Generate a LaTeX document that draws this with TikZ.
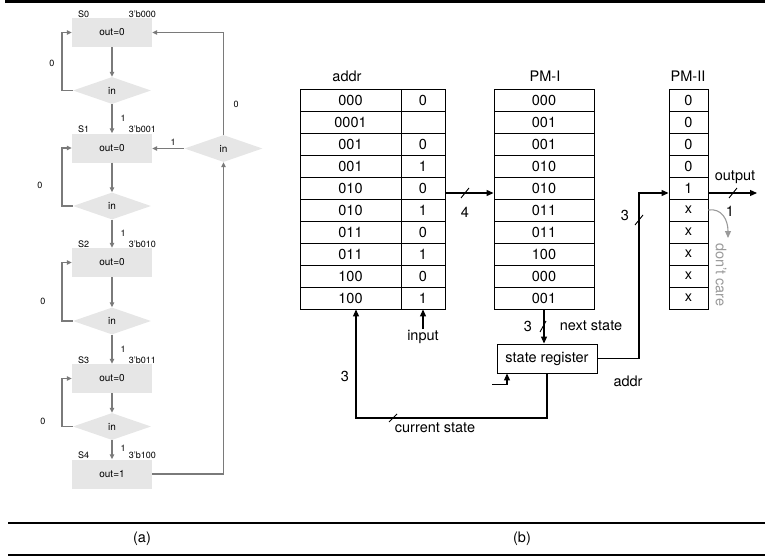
\documentclass[tikz,border=0pt]{standalone}
\usepackage{fontspec}
\setmainfont{TeX Gyre Heros}
\usetikzlibrary{shapes.geometric,arrows.meta}

\definecolor{cajagris}{HTML}{E6E6E6}
\definecolor{flechagris}{HTML}{7A7A7A}
\definecolor{textogris}{HTML}{9A9A9A}

\tikzset{
  estado/.style={fill=cajagris, minimum width=80pt, minimum height=29pt, inner sep=0pt, font=\fontsize{10}{12}\selectfont},
  decision/.style={diamond, fill=cajagris, minimum width=78pt, minimum height=27pt, aspect=2.9, inner sep=0pt, font=\fontsize{10}{12}\selectfont},
  etiq/.style={font=\fontsize{9}{11}\selectfont, inner sep=1pt},
  fgris/.style={draw=flechagris, line width=1.3pt, -{Triangle[length=5pt,width=4.5pt]}, fill=none},
  lgris/.style={draw=flechagris, line width=1.3pt},
  celda/.style={draw, line width=0.9pt, minimum height=22pt, inner sep=0pt, font=\fontsize{14.5}{16}\selectfont},
  texto/.style={font=\fontsize{14.5}{16}\selectfont, inner sep=1pt},
  fnegra/.style={draw, line width=1.1pt, -{Triangle[length=7pt,width=6pt]}},
  lnegra/.style={draw, line width=1.1pt},
  raya/.style={draw, line width=0.9pt}
}

\begin{document}
\begin{tikzpicture}[x=1pt,y=-1pt]
    \useasboundingbox (0,0) rectangle (783,559);

    % Lineas de la tabla
    \draw[line width=2.5pt] (5,1.5) -- (765,1.5);
    \draw[line width=1.6pt] (8,523) -- (765,523);
    \draw[line width=1.6pt] (8,555) -- (765,555);
    \node[texto] (lbla) at (142,539) {(a)};
    \node[texto] (lblb) at (522,539) {(b)};

    % (a) Diagrama de estados
    \node[estado] (s0) at (112,32.5) {out=0};
    \node[estado] (s1) at (112,148) {out=0};
    \node[estado] (s2) at (112,262.5) {out=0};
    \node[estado] (s3) at (112,378.5) {out=0};
    \node[estado] (s4) at (112,474) {out=1};

    \node[decision] (d0) at (112,90.5) {in};
    \node[decision] (d1) at (112,206) {in};
    \node[decision] (d2) at (112,321) {in};
    \node[decision] (d3) at (112,426.5) {in};
    \node[decision] (dr) at (223.5,148.5) {in};

    % Nombres y codigos de los estados
    \foreach \s/\c in {s0/000, s1/001, s2/010, s3/011, s4/100} {
        \node[etiq, anchor=south west] (\s n) at ([shift={(5pt,-1pt)}]\s.north west) {\MakeUppercase{\s}};
        \node[etiq, anchor=south east] (\s c) at ([shift={(5pt,-1pt)}]\s.north east) {3'b\c};
    }

    % Flechas verticales
    \draw[fgris] (s0.south) -- (d0.north);
    \draw[fgris] (d0.south) -- node[etiq, right=7pt] {1} (s1.north);
    \draw[fgris] (s1.south) -- (d1.north);
    \draw[fgris] (d1.south) -- node[etiq, right=7pt] {1} (s2.north);
    \draw[fgris] (s2.south) -- (d2.north);
    \draw[fgris] (d2.south) -- node[etiq, right=7pt] {1} (s3.north);
    \draw[fgris] (s3.south) -- (d3.north);
    \draw[fgris] (d3.south) -- node[etiq, right=7pt, pos=0.4] {1} (s4.north);

    % Lazos con 0
    \draw[fgris] (d0.west) -- (62,90.5) |- (s0.west);
    \draw[fgris] (d1.west) -- (62,206) |- (s1.west);
    \draw[fgris] (d2.west) -- (62,321) |- (s2.west);
    \draw[fgris] (d3.west) -- (62,426.5) |- (s3.west);
    \node[etiq] (c0) at (52,63) {0};
    \node[etiq] (c1) at (40,185) {0};
    \node[etiq] (c2) at (43,301) {0};
    \node[etiq] (c3) at (43,421) {0};

    % Retorno desde S4
    \draw[fgris] (s4.east) -| (dr.south);
    \draw[fgris] (dr.west) -- node[etiq, above=1pt, pos=0.35] {1} (s1.east |- dr.west);
    \draw[fgris] (dr.north) |- (s0.east);
    \node[etiq] (cr) at (236,104) {0};

    % (b) Tablas
    \node[texto] (taddr) at (347,76) {addr};
    \node[texto] (tpm1) at (545,76) {PM-I};
    \node[texto] (tpm2) at (688,76) {PM-II};

    \foreach \a/\b [count=\i] in {000/0, 0001/, 001/0, 001/1, 010/0, 010/1, 011/0, 011/1, 100/0, 100/1} {
        \node[celda, minimum width=101pt] (ad\i) at (350.5,{89+22*(\i-0.5)}) {\a};
        \node[celda, minimum width=44pt] (in\i) at (423,{89+22*(\i-0.5)}) {\b};
    }
    \foreach \p [count=\i] in {000, 001, 001, 010, 010, 011, 011, 100, 000, 001}
        \node[celda, minimum width=100pt] (pa\i) at (544,{89+22*(\i-0.5)}) {\p};
    \foreach \p [count=\i] in {0, 0, 0, 0, 1, x, x, x, x, x}
        \node[celda, minimum width=39pt] (pb\i) at (688.5,{89+22*(\i-0.5)}) {\p};

    % Registro de estado
    \node[celda, minimum width=100pt, minimum height=29pt] (reg) at (547,358.5) {state register};

    % Conexiones
    \draw[fnegra] ([yshift=-5pt]in5.east) -- ([yshift=-5pt]pa5.west);
    \draw[raya] (461,198) -- (469,188);
    \node[texto] (n4) at (465,212) {4};

    \draw[fnegra] (pa10.south) -- (pa10.south |- reg.north);
    \draw[raya] (540,332) -- (546,321);
    \node[texto] (n3a) at (528,326) {3};
    \node[texto] (nst) at (591,326) {next state};

    \coordinate (cs) at (356,418);
    \draw[fnegra] (reg.south) |- (cs) -- (cs |- ad10.south);
    \draw[raya] (389,422) -- (397,414);
    \node[texto] (ncs) at (435,428) {current state};
    \node[texto] (n3b) at (345,376) {3};

    \node[texto] (ninp) at (423,337) {input};
    \draw[fnegra] (ninp.north) -- (in10.south);

    \coordinate (clk) at (492,384.5);
    \draw[fnegra] (clk) -| ([xshift=-40pt]reg.south);

    \coordinate (up) at (639,193);
    \draw[fnegra] (reg.east) -| (up) -- ([yshift=-5pt]pb5.west);
    \draw[raya] (635,225) -- (643,215);
    \node[texto] (n3c) at (625,215) {3};
    \node[texto] (nad) at (628,381) {addr};

    \coordinate (outp) at (757,193);
    \draw[fnegra] ([yshift=-5pt]pb5.east) -- (outp);
    \draw[raya] (729,198) -- (737,188);
    \node[texto] (nout) at (735,177) {output};
    \node[texto] (n1) at (730,211) {1};

    % No importa
    \draw[draw=textogris, line width=1.1pt, -{Triangle[length=7pt,width=6pt]}] (pb6.east) .. controls (722,208) and (728,220) .. (728,238);
    \node[texto, text=textogris, rotate=-90] (ndc) at (721,275) {don't care};
\end{tikzpicture}
\end{document}
